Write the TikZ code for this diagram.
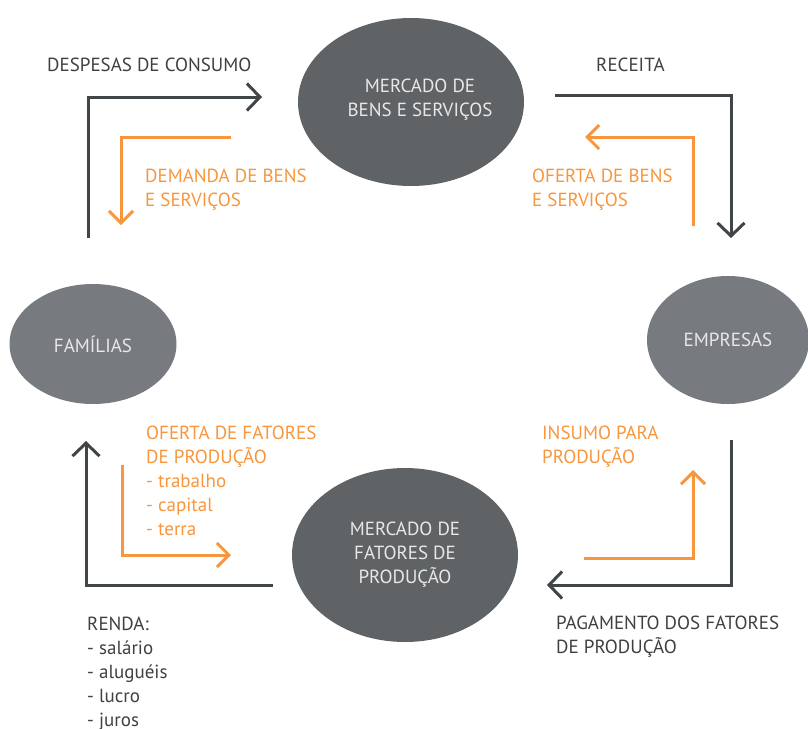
\documentclass[tikz,border=0pt]{standalone}
\usepackage{fontspec}
\setmainfont{PT Sans}
\usetikzlibrary{arrows.meta,shapes.geometric}
\definecolor{darkfill}{HTML}{5F6366}
\definecolor{lightfill}{HTML}{777B7F}
\definecolor{darkline}{HTML}{404548}
\definecolor{orangeline}{HTML}{F7963C}
\definecolor{txtgray}{HTML}{404040}
\definecolor{ovaltxt}{HTML}{E8E8E8}
\tikzset{
  oval/.style={ellipse, inner sep=0pt, text=ovaltxt, align=center, font=\fontsize{19}{24}\selectfont},
  ovaltext/.style={inner sep=0pt, text=ovaltxt, align=center, font=\fontsize{19}{24}\selectfont},
  darkflow/.style={draw=darkline, line width=3pt, -{Straight Barb[length=13pt,width=27pt,line width=3pt]}},
  orangeflow/.style={draw=orangeline, line width=3pt, -{Straight Barb[length=12pt,width=24pt,line width=3pt]}},
  darklabel/.style={anchor=base west, inner sep=0pt, text=txtgray, align=left, font=\fontsize{19}{24}\selectfont},
  orangelabel/.style={anchor=base west, inner sep=0pt, text=orangeline, align=left, font=\fontsize{19}{24}\selectfont}
}
\begin{document}
\begin{tikzpicture}[x=1pt,y=-1pt]
\useasboundingbox (0,0) rectangle (808,728);
% ellipses
\node[oval, fill=darkfill, minimum width=226pt, minimum height=168pt] (bens) at (411,102) {};
\node[ovaltext] (benstext) at ([xshift=9pt,yshift=2pt]bens.center) {MERCADO DE\\BENS E SERVIÇOS};
\node[oval, fill=darkfill, minimum width=226pt, minimum height=174pt] (fatores) at (405,555) {MERCADO DE\\FATORES DE\\PRODUÇÃO};
\node[oval, fill=lightfill, minimum width=167pt, minimum height=120pt] (familias) at (93,344) {FAMÍLIAS};
\node[oval, fill=lightfill, minimum width=162pt, minimum height=128pt] (empresas) at (728,340) {EMPRESAS};
% coordinates
\coordinate (a1) at (88,238); \coordinate (a2) at (88,97); \coordinate (a3) at (262,97);
\coordinate (b1) at (231,137); \coordinate (b2) at (121,137); \coordinate (b3) at (121,225);
\coordinate (c1) at (555,95); \coordinate (c2) at (731,95); \coordinate (c3) at (731,238);
\coordinate (d1) at (693,226); \coordinate (d2) at (693,137); \coordinate (d3) at (585,137);
\coordinate (e1) at (731,440); \coordinate (e2) at (731,585); \coordinate (e3) at (547,585);
\coordinate (f1) at (584,558); \coordinate (f2) at (693,558); \coordinate (f3) at (693,470);
\coordinate (g1) at (273,585); \coordinate (g2) at (86,585); \coordinate (g3) at (86,441);
\coordinate (h1) at (122,465); \coordinate (h2) at (122,555); \coordinate (h3) at (231,555);
% flows
\draw[darkflow] (a1) -- (a2) -- (a3);
\draw[orangeflow] (b1) -- (b2) -- (b3);
\draw[darkflow] (c1) -- (c2) -- (c3);
\draw[orangeflow] (d1) -- (d2) -- (d3);
\draw[darkflow] (e1) -- (e2) -- (e3);
\draw[orangeflow] (f1) -- (f2) -- (f3);
\draw[darkflow] (g1) -- (g2) -- (g3);
\draw[orangeflow] (h1) -- (h2) -- (h3);
% labels
\node[darklabel] (despesas) at (47,71) {DESPESAS DE CONSUMO};
\node[darklabel] (receita) at (596,71) {RECEITA};
\node[orangelabel] (demanda) at (145,206) {DEMANDA DE BENS\\E SERVIÇOS};
\node[orangelabel] (oferta) at (532,206) {OFERTA DE BENS\\E SERVIÇOS};
\node[orangelabel] (ofertaf) at (146,535) {OFERTA DE FATORES\\DE PRODUÇÃO\\- trabalho\\- capital\\- terra};
\node[orangelabel] (insumo) at (542,463) {INSUMO PARA\\PRODUÇÃO};
\node[darklabel] (renda) at (87,726) {RENDA:\\- salário\\- aluguéis\\- lucro\\- juros};
\node[darklabel] (pagamento) at (556,653) {PAGAMENTO DOS FATORES\\DE PRODUÇÃO};
\end{tikzpicture}
\end{document}
